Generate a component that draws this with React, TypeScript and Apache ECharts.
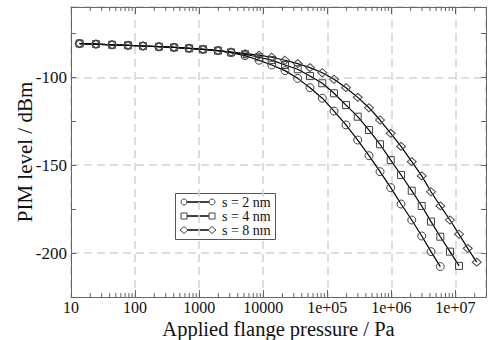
import React, { useEffect, useRef } from 'react';
import * as echarts from 'echarts';

// Applied flange pressure (Pa) at the marker positions
const pressure = [
  13.6, 24.5, 43.7, 77.6, 133, 236, 406, 695, 1148, 1968, 3141, 5200, 8590,
  13580, 21880, 34510, 53700, 83560, 127400, 195900, 298500, 447700, 665300,
  977200, 1416000, 2080000, 2979000, 4159000, 5808000, 8222000, 11380000,
  15560000, 21480000,
];

// PIM level (dBm) for each roughness
const pimS2 = [
  -80.8, -81.1, -81.5, -81.8, -82.2, -82.6, -83.0, -83.5, -84.1, -84.8, -86.0,
  -87.7, -90.3, -93.0, -96.2, -100.6, -105.9, -111.9, -119.2, -127.1, -135.7,
  -144.6, -153.7, -162.8, -172.1, -181.2, -190.3, -199.2, -207.7,
];
const pimS4 = [
  -80.8, -81.1, -81.5, -81.8, -82.2, -82.6, -83.0, -83.5, -84.1, -84.8, -85.8,
  -86.9, -88.6, -90.2, -93.0, -95.4, -99.3, -103.4, -109.1, -115.8, -122.4,
  -130.0, -138.1, -147.1, -155.6, -164.5, -173.2, -182.1, -190.7, -199.2, -207.3,
];
const pimS8 = [
  -80.8, -81.1, -81.5, -81.8, -82.2, -82.6, -83.0, -83.5, -84.1, -84.8, -85.6,
  -86.5, -87.4, -88.6, -90.3, -92.2, -94.5, -97.4, -101.1, -105.9, -111.4,
  -117.3, -124.3, -131.9, -139.3, -148.0, -156.1, -165.1, -173.2, -181.2,
  -189.3, -197.3, -205.2,
];

const seriesNames = ['s = 2 nm', 's = 4 nm', 's = 8 nm'];

const xMin = 10;
const xMax = 3e7;
const yMin = -225;
const yMax = -60;
const yStep = 25;

// minor log ticks (2..9 x each decade)
const minorMantissas = [2, 3, 4, 5, 6, 7, 8, 9];
const decades = [10, 100, 1000, 1e4, 1e5, 1e6, 1e7];

const FONT = 'Liberation Serif';
const FRAME = '#666';
const GRID = '#d4d4d4';

function pairs(vals: number[]) {
  return vals.map((v, i) => [pressure[i], v]);
}

function xLabel(v: number) {
  const l = Math.log10(v);
  if (Math.abs(l - Math.round(l)) > 1e-6) return '';
  const e = Math.round(l);
  if (e <= 4) return String(Math.round(Math.pow(10, e)));
  return '1e+' + (e < 10 ? '0' + e : String(e));
}

export default function App() {
  const ref = useRef<HTMLDivElement>(null);

  useEffect(() => {
    if (!ref.current) return;
    const chart = echarts.init(ref.current, undefined, { renderer: 'svg' });

    const minorTicks: number[][] = [];
    decades.forEach((d) =>
      minorMantissas.forEach((m) => {
        const v = d * m;
        if (v < xMax) minorTicks.push([v, yMin]);
      })
    );

    const symbols = ['circle', 'rect', 'diamond'];
    const sizes: any[] = [8, 7, [9, 8]];
    const datasets = [pimS2, pimS4, pimS8];

    const lineSeries = datasets.map((d, i) => ({
      name: seriesNames[i],
      type: 'line',
      data: pairs(d),
      symbol: symbols[i],
      symbolSize: sizes[i],
      showSymbol: true,
      showAllSymbol: true,
      lineStyle: { color: '#000', width: 1.2 },
      itemStyle: { color: 'rgba(255,255,255,0)', borderColor: '#444', borderWidth: 1 },
      z: 3,
      silent: true,
    }));

    const lx1 = 184;
    const lx2 = 212;
    const rows = [202, 216, 230];
    const legendChildren: any[] = [
      {
        type: 'rect',
        shape: { x: 175.5, y: 193.5, width: 100, height: 46 },
        style: { fill: '#fff', stroke: '#555', lineWidth: 1 },
      },
    ];
    rows.forEach((y, i) => {
      legendChildren.push({
        type: 'line',
        shape: { x1: lx1, y1: y, x2: lx2, y2: y },
        style: { stroke: '#000', lineWidth: 1.5 },
      });
      [lx1, lx2].forEach((cx) => {
        if (i === 0) {
          legendChildren.push({
            type: 'circle',
            shape: { cx, cy: y, r: 3 },
            style: { fill: '#fff', stroke: '#444', lineWidth: 1 },
          });
        } else if (i === 1) {
          legendChildren.push({
            type: 'rect',
            shape: { x: cx - 3, y: y - 3, width: 6, height: 6 },
            style: { fill: '#fff', stroke: '#444', lineWidth: 1 },
          });
        } else {
          legendChildren.push({
            type: 'polygon',
            shape: { points: [[cx - 4, y], [cx, y - 3.5], [cx + 4, y], [cx, y + 3.5]] },
            style: { fill: '#fff', stroke: '#444', lineWidth: 1 },
          });
        }
      });
      legendChildren.push({
        type: 'text',
        x: 222,
        y,
        style: {
          text: seriesNames[i],
          fontSize: 14,
          fontFamily: FONT,
          fill: '#111',
          verticalAlign: 'middle',
        },
      });
    });

    const option: any = {
      animation: false,
      backgroundColor: '#fff',
      textStyle: { fontFamily: FONT },
      grid: {
        left: 71,
        right: 2,
        top: 7,
        bottom: 43,
        containLabel: false,
        outerBoundsMode: 'none',
      },
      xAxis: [
        {
          type: 'log',
          logBase: 10,
          min: xMin,
          max: xMax,
          position: 'bottom',
          axisLine: { show: true, onZero: false, lineStyle: { color: FRAME, width: 1 } },
          axisTick: { show: true, inside: true, length: 7, lineStyle: { color: FRAME } },
          axisLabel: {
            show: true,
            formatter: xLabel,
            fontSize: 16,
            fontFamily: FONT,
            color: '#111',
            margin: 2,
            showMinLabel: true,
            showMaxLabel: true,
          },
          splitLine: { show: true, lineStyle: { color: GRID, type: [8, 5], width: 1.5 } },
          name: 'Applied flange pressure / Pa',
          nameLocation: 'middle',
          nameGap: 21,
          nameMoveOverlap: false,
          nameTextStyle: { fontSize: 20.5, fontFamily: FONT, color: '#111' },
        },
        {
          type: 'log',
          logBase: 10,
          min: xMin,
          max: xMax,
          position: 'top',
          axisLine: { show: true, onZero: false, lineStyle: { color: FRAME, width: 1 } },
          axisTick: { show: true, inside: true, length: 7, lineStyle: { color: FRAME } },
          axisLabel: { show: false },
          splitLine: { show: false },
        },
      ],
      yAxis: [
        {
          type: 'value',
          min: yMin,
          max: yMax,
          interval: yStep,
          position: 'left',
          axisLine: { show: true, onZero: false, lineStyle: { color: FRAME, width: 1 } },
          axisTick: { show: true, inside: true, length: 5, lineStyle: { color: FRAME } },
          axisLabel: {
            show: true,
            formatter: (v: number) => (v % 50 === 0 && v > yMin && v < yMax ? String(v) : ''),
            fontSize: 17,
            fontFamily: FONT,
            color: '#111',
            margin: 4,
          },
          splitLine: {
            show: true,
            lineStyle: { color: ['rgba(0,0,0,0)', GRID], type: [8, 5], width: 1.5 },
          },
          name: 'PIM level / dBm',
          nameLocation: 'middle',
          nameGap: 36,
          nameMoveOverlap: false,
          nameRotate: 90,
          nameTextStyle: { fontSize: 21, fontFamily: FONT, color: '#111' },
        },
        {
          type: 'value',
          min: yMin,
          max: yMax,
          interval: yStep,
          position: 'right',
          axisLine: { show: true, onZero: false, lineStyle: { color: FRAME, width: 1 } },
          axisTick: { show: true, inside: true, length: 5, lineStyle: { color: FRAME } },
          axisLabel: { show: false },
          splitLine: { show: false },
        },
      ],
      series: [
        {
          type: 'custom',
          name: 'minorTicks',
          data: minorTicks,
          silent: true,
          z: 1,
          encode: { x: 0, y: 1 },
          renderItem: (params: any, api: any) => {
            const x = api.coord([api.value(0), yMin])[0];
            const cs = params.coordSys;
            const top = cs.y;
            const bottom = cs.y + cs.height;
            return {
              type: 'group',
              children: [
                { type: 'line', shape: { x1: x, y1: bottom, x2: x, y2: bottom - 4 }, style: { stroke: FRAME, lineWidth: 1 } },
                { type: 'line', shape: { x1: x, y1: top, x2: x, y2: top + 4 }, style: { stroke: FRAME, lineWidth: 1 } },
              ],
            };
          },
        },
        ...lineSeries,
      ],
      graphic: [{ type: 'group', z: 100, children: legendChildren }],
    };

    chart.setOption(option);
    return () => chart.dispose();
  }, []);

  return (
    <div
      ref={ref}
      style={{ position: 'fixed', left: 0, top: 0, width: 488, height: 340 }}
    />
  );
}
